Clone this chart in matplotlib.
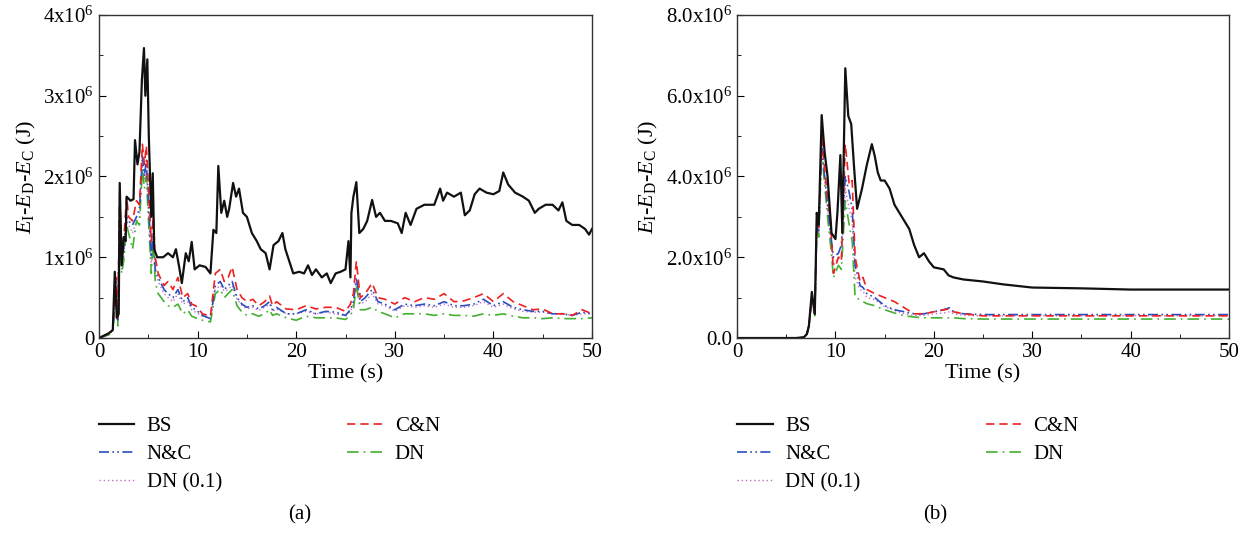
import matplotlib
matplotlib.use("Agg")
import matplotlib.pyplot as plt
from matplotlib.ticker import MultipleLocator, FuncFormatter

plt.rcParams['font.family'] = ['Liberation Serif', 'DejaVu Serif']
plt.rcParams['mathtext.fontset'] = 'custom'
plt.rcParams['mathtext.rm'] = 'Liberation Serif'
plt.rcParams['mathtext.it'] = 'Liberation Serif:italic'
plt.rcParams['font.size'] = 15

# ---------------- (a) data, energy in 1e6 J ----------------
ta_bs = [0, 0.5, 1, 1.4, 1.6, 1.8, 2.0, 2.1, 2.3, 2.5, 2.7, 2.8, 3.2, 3.5, 3.65, 3.9, 4.1, 4.35, 4.56,
         4.7, 4.9, 5.05, 5.3, 5.45, 5.6, 5.9, 6.5, 7.0, 7.5, 7.8, 8.1, 8.4, 8.8, 9.1, 9.4, 9.7, 10.2,
         10.8, 11.3, 11.6, 11.9, 12.1, 12.4, 12.7, 13.0, 13.2, 13.6, 13.9, 14.2, 14.6, 15.0, 15.5, 16.0,
         16.4, 16.9, 17.3, 17.7, 18.2, 18.6, 18.9, 19.3, 19.7, 20.3, 20.8, 21.2, 21.6, 22.0, 22.6, 23.1,
         23.5, 24.0, 24.5, 25.0, 25.3, 25.5, 25.6, 25.8, 26.1, 26.4, 26.8, 27.2, 27.7, 28.1, 28.5, 29.0,
         29.6, 30.3, 30.7, 31.1, 31.6, 32.2, 33.0, 34.0, 34.6, 34.9, 35.3, 36.0, 36.7, 37.1, 37.6, 38.1,
         38.6, 39.3, 40.0, 40.6, 41.0, 41.5, 42.2, 43.0, 43.6, 44.2, 44.6, 45.3, 46.0, 46.6, 47.0, 47.4,
         48.0, 48.7, 49.3, 49.7, 50]
bs_a = [0, 0.03, 0.06, 0.1, 0.82, 0.25, 0.3, 1.92, 0.9, 1.25, 1.2, 1.75, 1.7, 1.72, 2.45, 2.15, 2.3, 3.2, 3.59,
        3.0, 3.45, 2.5, 1.5, 2.04, 1.1, 1.0, 1.0, 1.05, 1.0, 1.1, 0.9, 0.68, 1.05, 0.95, 1.19, 0.85, 0.9,
        0.88, 0.8, 1.34, 1.3, 2.13, 1.55, 1.7, 1.5, 1.6, 1.92, 1.75, 1.85, 1.55, 1.5, 1.3, 1.2,
        1.1, 1.05, 0.85, 1.15, 1.2, 1.3, 1.1, 0.95, 0.8, 0.82, 0.8, 0.9, 0.78, 0.85, 0.75, 0.8,
        0.68, 0.8, 0.82, 0.85, 1.2, 0.75, 1.55, 1.75, 1.93, 1.3, 1.35, 1.45, 1.71, 1.5, 1.55, 1.45,
        1.45, 1.42, 1.3, 1.55, 1.4, 1.6, 1.65, 1.65, 1.85, 1.7, 1.8, 1.75, 1.8, 1.52, 1.58, 1.78,
        1.85, 1.8, 1.78, 1.82, 2.05, 1.9, 1.8, 1.75, 1.7, 1.55, 1.6, 1.65, 1.65, 1.58, 1.68, 1.45,
        1.4, 1.4, 1.35, 1.28, 1.35]

ta_s = [0, 1, 1.4, 1.7, 1.9, 2.1, 2.3, 2.5, 2.8, 3.0, 3.4, 3.8, 4.1, 4.4, 4.6, 4.8, 5.0, 5.3, 5.5, 5.7,
        6.0, 6.6, 7.0, 7.5, 8.0, 8.5, 9.0, 9.4, 9.8, 10.5, 11.3, 11.8, 12.3, 12.7, 13.1, 13.5, 14.0,
        14.5, 15.0, 15.6, 16.2, 16.8, 17.3, 17.6, 18.0, 19.0, 20.0, 21.0, 22.0, 23.0, 24.0, 25.0,
        25.5, 25.8, 26.1, 26.5, 27.0, 27.7, 28.3, 29.0, 30.0, 31.0, 32.0, 33.0, 34.0, 35.0, 36.0,
        37.0, 38.0, 39.0, 40.0, 41.0, 42.0, 43.0, 44.0, 45.0, 46.0, 47.0, 48.0, 49.0, 50]
cn_a = [0, 0.05, 0.1, 0.75, 0.25, 1.8, 0.95, 1.2, 1.75, 1.5, 1.45, 1.7, 1.65, 2.4, 2.15, 2.38, 1.9, 1.2, 1.5, 1.0,
        0.8, 0.65, 0.7, 0.6, 0.75, 0.5, 0.55, 0.42, 0.4, 0.3, 0.27, 0.8, 0.85, 0.7, 0.75, 0.88, 0.6,
        0.5, 0.45, 0.48, 0.4, 0.45, 0.52, 0.4, 0.45, 0.36, 0.35, 0.4, 0.36, 0.38, 0.38, 0.33,
        0.42, 0.55, 0.95, 0.5, 0.55, 0.68, 0.5, 0.48, 0.42, 0.5, 0.45, 0.5, 0.48, 0.55, 0.45,
        0.46, 0.5, 0.55, 0.45, 0.55, 0.45, 0.4, 0.35, 0.36, 0.3, 0.3, 0.28, 0.35, 0.3]
nc_a = [0, 0.05, 0.1, 0.7, 0.2, 1.7, 0.9, 1.1, 1.5, 1.45, 1.4, 1.5, 1.6, 2.25, 2.0, 2.2, 1.7, 1.0, 1.3, 0.85,
        0.75, 0.6, 0.55, 0.5, 0.6, 0.45, 0.5, 0.38, 0.35, 0.28, 0.24, 0.65, 0.7, 0.6, 0.65, 0.7, 0.5,
        0.42, 0.38, 0.4, 0.36, 0.4, 0.45, 0.35, 0.38, 0.3, 0.3, 0.35, 0.3, 0.33, 0.32, 0.28,
        0.35, 0.45, 0.75, 0.45, 0.5, 0.6, 0.45, 0.42, 0.35, 0.42, 0.4, 0.42, 0.4, 0.45, 0.4,
        0.4, 0.42, 0.48, 0.4, 0.45, 0.38, 0.35, 0.33, 0.33, 0.3, 0.3, 0.28, 0.32, 0.3]
dn_a = [0, 0.04, 0.08, 0.6, 0.15, 1.6, 0.8, 0.95, 1.4, 1.3, 1.1, 1.45, 1.4, 2.1, 1.85, 2.0, 1.5, 0.8, 1.2, 0.7,
        0.55, 0.45, 0.4, 0.38, 0.42, 0.3, 0.35, 0.27, 0.25, 0.22, 0.2, 0.55, 0.6, 0.5, 0.55, 0.6, 0.4,
        0.32, 0.28, 0.3, 0.27, 0.3, 0.35, 0.28, 0.3, 0.25, 0.22, 0.27, 0.25, 0.25, 0.25, 0.23,
        0.28, 0.35, 0.65, 0.35, 0.35, 0.38, 0.33, 0.3, 0.25, 0.3, 0.3, 0.3, 0.28, 0.3, 0.28,
        0.28, 0.27, 0.3, 0.28, 0.3, 0.27, 0.25, 0.25, 0.24, 0.25, 0.24, 0.24, 0.24, 0.25]
dn01_a = [0, 0.05, 0.09, 0.65, 0.2, 1.65, 0.85, 1.0, 1.45, 1.4, 1.3, 1.45, 1.5, 2.15, 1.95, 2.1, 1.6, 0.9, 1.25, 0.8,
          0.7, 0.55, 0.5, 0.45, 0.55, 0.42, 0.45, 0.35, 0.32, 0.27, 0.24, 0.6, 0.65, 0.58, 0.6, 0.65, 0.48,
          0.4, 0.36, 0.38, 0.34, 0.38, 0.42, 0.33, 0.36, 0.3, 0.3, 0.33, 0.3, 0.32, 0.3, 0.27,
          0.33, 0.42, 0.7, 0.42, 0.45, 0.55, 0.42, 0.4, 0.33, 0.4, 0.38, 0.4, 0.38, 0.42, 0.38,
          0.38, 0.4, 0.45, 0.38, 0.42, 0.36, 0.33, 0.32, 0.32, 0.3, 0.3, 0.28, 0.3, 0.3]

# ---------------- (b) data, energy in 1e6 J ----------------
tb_bs = [0, 3, 6, 6.8, 7.1, 7.3, 7.6, 7.9, 8.1, 8.3, 8.6, 8.9, 9.2, 9.6, 10.0, 10.2, 10.5, 10.7, 10.8,
         11.0, 11.3, 11.6, 11.9, 12.2, 12.7, 13.2, 13.7, 14.0, 14.3, 14.6, 15.0, 15.5, 16.0, 16.5,
         17.0, 17.5, 18.0, 18.5, 19.0, 19.5, 20.0, 21.0, 21.5, 22.0, 23.0, 25.0, 27.0, 30.0, 35.0,
         40.0, 45.0, 50]
bs_b = [0, 0, 0, 0.02, 0.1, 0.3, 1.14, 0.6, 3.1, 2.8, 5.52, 4.6, 4.0, 2.6, 2.45, 3.1, 4.53, 2.6, 4.0,
        6.68, 5.5, 5.3, 4.2, 3.2, 3.7, 4.3, 4.8, 4.5, 4.1, 3.9, 3.9, 3.7, 3.3, 3.1,
        2.9, 2.7, 2.3, 2.0, 2.1, 1.9, 1.75, 1.7, 1.55, 1.5, 1.45, 1.4, 1.33, 1.25, 1.23,
        1.2, 1.2, 1.2]

tb_s = [0, 3, 6, 6.8, 7.1, 7.3, 7.6, 7.9, 8.1, 8.3, 8.6, 8.9, 9.2, 9.5, 9.8, 10.3, 10.6, 11.0, 11.4,
        11.7, 12.0, 12.5, 12.8, 13.2, 14.0, 15.0, 16.0, 17.0, 18.0, 19.0, 20.0, 21.0, 21.6, 22.0,
        23.0, 25.0, 30.0, 35.0, 40.0, 45.0, 50]
cn_b = [0, 0, 0, 0.02, 0.1, 0.3, 1.0, 0.6, 2.9, 2.7, 5.0, 4.2, 3.5, 2.9, 1.6, 2.0, 1.9, 4.8, 3.8,
        3.9, 2.0, 1.4, 1.5, 1.2, 1.1, 1.0, 0.9, 0.75, 0.6, 0.6, 0.65, 0.7, 0.72, 0.65,
        0.6, 0.55, 0.55, 0.55, 0.55, 0.55, 0.55]
nc_b = [0, 0, 0, 0.02, 0.1, 0.3, 1.0, 0.6, 2.8, 2.6, 4.7, 4.0, 3.3, 2.6, 2.0, 2.1, 2.3, 4.0, 3.6,
        3.2, 1.8, 1.3, 1.25, 1.1, 1.0, 0.8, 0.7, 0.65, 0.6, 0.6, 0.65, 0.7, 0.75, 0.65,
        0.6, 0.58, 0.58, 0.58, 0.58, 0.58, 0.58]
dn_b = [0, 0, 0, 0.02, 0.1, 0.3, 0.95, 0.55, 2.7, 2.5, 4.7, 3.8, 3.0, 2.3, 1.5, 1.8, 1.7, 3.4, 2.8,
        2.4, 1.0, 0.95, 0.9, 0.85, 0.8, 0.7, 0.62, 0.55, 0.52, 0.5, 0.5, 0.5, 0.5, 0.5,
        0.48, 0.47, 0.47, 0.47, 0.47, 0.47, 0.47]
dn01_b = [0, 0, 0, 0.02, 0.1, 0.3, 0.98, 0.58, 2.75, 2.6, 4.8, 4.0, 3.2, 2.5, 1.8, 2.0, 2.0, 3.7, 3.2,
          2.9, 1.5, 1.2, 1.15, 1.0, 0.95, 0.78, 0.68, 0.6, 0.56, 0.56, 0.6, 0.62, 0.65, 0.6,
          0.56, 0.55, 0.55, 0.55, 0.55, 0.55, 0.55]

labels = ['BS', 'C&N', 'N&C', 'DN', 'DN (0.1)']

fig = plt.figure(figsize=(12.55, 5.34), dpi=100)
ax1 = fig.add_axes([0.0789, 0.367, 0.3928, 0.605])
ax2 = fig.add_axes([0.5873, 0.367, 0.392, 0.605])


def draw(ax, t_bs, bs, t_s, cn, nc, dn, dn01):
    lines = []
    lines += ax.plot(t_s, dn01, color='#c070c8', lw=1.0, ls=(0, (1, 2)), label=labels[4])
    lines += ax.plot(t_s, dn, color='#44b030', lw=1.2, ls=(0, (7, 3, 1, 3)), label=labels[3])
    lines += ax.plot(t_s, nc, color='#2a4fc0', lw=1.2, ls=(0, (6, 2, 1, 2, 1, 2)), label=labels[2])
    lines += ax.plot(t_s, cn, color='#ee2020', lw=1.2, ls=(0, (5, 3)), label=labels[1])
    lines += ax.plot(t_bs, bs, color='#111111', lw=1.6, label=labels[0])
    ax.set_xlim(0, 50)
    ax.xaxis.set_major_locator(MultipleLocator(10))
    ax.xaxis.set_minor_locator(MultipleLocator(5))
    ax.tick_params(which='both', direction='in', top=False, right=False, labelsize=15)
    ax.tick_params(which='major', length=5)
    ax.tick_params(which='minor', length=3)
    ax.set_xlabel('Time (s)', fontsize=16, labelpad=2)
    ax.set_ylabel(r'$E_{\rm I}$-$E_{\rm D}$-$E_{\rm C}$ (J)', fontsize=16, labelpad=4)
    for s in ax.spines.values():
        s.set_linewidth(1.0)
        s.set_color('#333333')
    return lines


la = draw(ax1, ta_bs, bs_a, ta_s, cn_a, nc_a, dn_a, dn01_a)
lb = draw(ax2, tb_bs, bs_b, tb_s, cn_b, nc_b, dn_b, dn01_b)

ax1.set_ylim(0, 4)
ax1.yaxis.set_major_locator(MultipleLocator(1))
ax1.yaxis.set_minor_locator(MultipleLocator(0.5))
ax1.yaxis.set_major_formatter(FuncFormatter(
    lambda v, p: '0' if v == 0 else r'$\mathrm{%dx10^{6}}$' % v))

ax2.set_ylim(0, 8)
ax2.yaxis.set_major_locator(MultipleLocator(2))
ax2.yaxis.set_minor_locator(MultipleLocator(1))
ax2.yaxis.set_major_formatter(FuncFormatter(
    lambda v, p: '0.0' if v == 0 else r'$\mathrm{%.1fx10^{6}}$' % v))

for lines, x0, tag, xt in [(la, 0.072, '(a)', 0.239), (lb, 0.581, '(b)', 0.745)]:
    order = [lines[4], lines[2], lines[0], lines[3], lines[1]]
    fig.legend(order, [l.get_label() for l in order], ncol=2, loc='upper left',
               bbox_to_anchor=(x0, 0.236), frameon=False, fontsize=15,
               handlelength=1.7, handletextpad=0.6, columnspacing=6.0,
               labelspacing=0.42, borderaxespad=0)
    fig.text(xt, 0.028, tag, fontsize=15, ha='center')

fig.savefig('out.png', dpi=100)
